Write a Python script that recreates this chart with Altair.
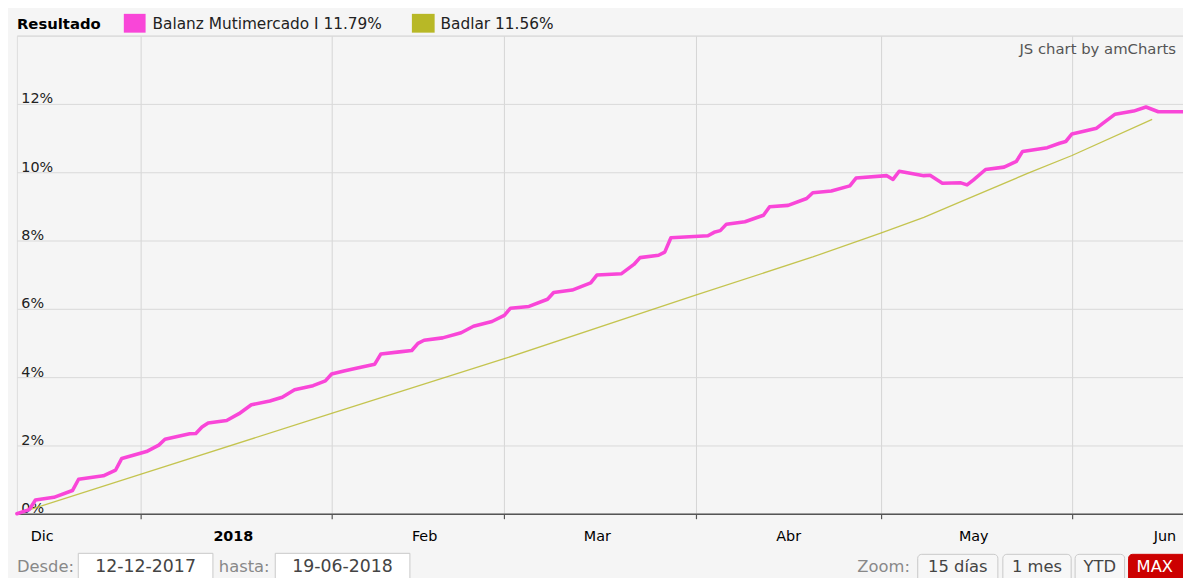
import json
import altair as alt
import pandas as pd

FONT = "DejaVu Sans"

# ---- data ----
series_names = ["Balanz Mutimercado I 11.79%", "Badlar 11.56%"]
series_colors = ["#f946d8", "#b8b826"]

balanz_dates = [
    "2017-12-12", "2017-12-14", "2017-12-15", "2017-12-18", "2017-12-21", "2017-12-22",
    "2017-12-26", "2017-12-28", "2017-12-29",
    "2018-01-02", "2018-01-04", "2018-01-05", "2018-01-09", "2018-01-10", "2018-01-11",
    "2018-01-12", "2018-01-15", "2018-01-17", "2018-01-19", "2018-01-22", "2018-01-24",
    "2018-01-26", "2018-01-29", "2018-01-31",
    "2018-02-01", "2018-02-03", "2018-02-05", "2018-02-08", "2018-02-09", "2018-02-12",
    "2018-02-14", "2018-02-15", "2018-02-16", "2018-02-19", "2018-02-22", "2018-02-24",
    "2018-02-27",
    "2018-03-01", "2018-03-02", "2018-03-05", "2018-03-08", "2018-03-09", "2018-03-12",
    "2018-03-15", "2018-03-16", "2018-03-20", "2018-03-22", "2018-03-23", "2018-03-26",
    "2018-03-27", "2018-03-28",
    "2018-04-03", "2018-04-04", "2018-04-05", "2018-04-06", "2018-04-09", "2018-04-12",
    "2018-04-13", "2018-04-16", "2018-04-19", "2018-04-20", "2018-04-23", "2018-04-26",
    "2018-04-27",
    "2018-05-02", "2018-05-03", "2018-05-04", "2018-05-08", "2018-05-09", "2018-05-11",
    "2018-05-14", "2018-05-15", "2018-05-16", "2018-05-18", "2018-05-21", "2018-05-23",
    "2018-05-24", "2018-05-28", "2018-05-30", "2018-05-31",
    "2018-06-01", "2018-06-05", "2018-06-06", "2018-06-08", "2018-06-11", "2018-06-13",
    "2018-06-15", "2018-06-19",
]
balanz_values = [
    0.00, 0.12, 0.40, 0.48, 0.68, 1.01,
    1.11, 1.28, 1.62,
    1.82, 2.01, 2.18, 2.34, 2.35, 2.54,
    2.66, 2.73, 2.93, 3.19, 3.30, 3.41,
    3.63, 3.75, 3.89,
    4.09, 4.18, 4.26, 4.38, 4.68, 4.74,
    4.78, 4.99, 5.08, 5.15, 5.30, 5.49,
    5.63,
    5.81, 6.02, 6.07, 6.28, 6.48, 6.55,
    6.76, 6.99, 7.03, 7.30, 7.50, 7.57,
    7.66, 8.08,
    8.14, 8.24, 8.29, 8.48, 8.55, 8.74,
    8.99, 9.03, 9.23, 9.40, 9.45, 9.60,
    9.83,
    9.90, 9.79, 10.03, 9.90, 9.91, 9.68,
    9.69, 9.63, 9.77, 10.08, 10.15, 10.32,
    10.61, 10.72, 10.85, 10.90,
    11.12, 11.29, 11.43, 11.70, 11.79, 11.91,
    11.77, 11.77,
]

badlar_dates = ["2017-12-12", "2018-01-01", "2018-02-01", "2018-03-01", "2018-04-01",
                "2018-04-20", "2018-05-01", "2018-05-08", "2018-05-14", "2018-05-25",
                "2018-06-01", "2018-06-14"]
badlar_values = [0.00, 1.15, 2.94, 4.54, 6.40,
                 7.52, 8.22, 8.68, 9.14, 9.98,
                 10.49, 11.55]

y_ticks = [0, 2, 4, 6, 8, 10, 12, 14]
month_starts = [(2018, 1, 1), (2018, 2, 1), (2018, 3, 1), (2018, 4, 1), (2018, 5, 1), (2018, 6, 1)]
label_dates = [(2017, 12, 16), (2018, 1, 16), (2018, 2, 16), (2018, 3, 16),
               (2018, 4, 16), (2018, 5, 16), (2018, 6, 16)]
month_labels = ["2018", "Feb", "Mar", "Abr", "May", "Jun", "Jul", "Ago", "Sep", "Oct", "Nov", "Dic"]
domain_dates = [(2017, 12, 12), (2018, 6, 19)]

legend_title = "Resultado"
credit_text = "JS chart by amCharts"
range_labels = ["Desde:", "hasta:"]
range_values = ["12-12-2017", "19-06-2018"]
zoom_label = "Zoom:"
zoom_buttons = ["15 días", "1 mes", "YTD", "MAX"]

# ---- tables ----
bal_df = pd.DataFrame({"date": pd.to_datetime(balanz_dates), "value": balanz_values,
                       "series": series_names[0]})
bad_df = pd.DataFrame({"date": pd.to_datetime(badlar_dates), "value": badlar_values,
                       "series": series_names[1]})


def dt(t):
    return alt.DateTime(year=t[0], month=t[1], date=t[2])


x_scale = alt.Scale(domain=[dt(d) for d in domain_dates])
y_scale = alt.Scale(domain=[0, 14], nice=False, zero=True)
color_scale = alt.Scale(domain=series_names, range=series_colors)

grid_axis = alt.Axis(values=[dt(d) for d in month_starts], grid=True, gridColor="#d4d4d4",
                     gridWidth=1, ticks=True, tickSize=5, tickColor="#555555", tickWidth=1.2,
                     labels=False, domain=True, domainColor="#555555", domainWidth=1.5,
                     title=None, orient="bottom")
label_axis = alt.Axis(values=[dt(d) for d in label_dates], grid=False, ticks=False,
                      domain=False, labels=True,
                      labelExpr=json.dumps(month_labels) + "[month(datum.value)]",
                      labelFontWeight=alt.condition("month(datum.value) == 0",
                                                    alt.value("bold"), alt.value("normal")),
                      labelPadding=16, labelFont=FONT, labelFontSize=14.5, labelColor="#000000",
                      labelAngle=0, labelAlign="center", labelBaseline="top",
                      labelOverlap=False, title=None, orient="bottom")
y_axis = alt.Axis(values=y_ticks, grid=True, gridColor="#d9d9d9", gridWidth=1, ticks=False,
                  domain=False, labelAlign="left", labelPadding=-4, labelBaseline="alphabetic",
                  labelOffset=-1,
                  labelExpr="datum.value >= 14 ? '' : datum.value + '%'",
                  labelFont=FONT, labelFontSize=14.5, labelColor="#222222", title=None)

badlar = alt.Chart(bad_df).mark_line(strokeWidth=1.3, opacity=0.8).encode(
    x=alt.X("date:T", scale=x_scale, axis=grid_axis),
    y=alt.Y("value:Q", scale=y_scale, axis=y_axis),
    stroke=alt.Stroke("series:N", scale=color_scale, legend=None),
)
balanz = alt.Chart(bal_df).mark_line(strokeWidth=3.6, strokeJoin="round", strokeCap="round").encode(
    x=alt.X("date:T", scale=x_scale, axis=label_axis),
    y=alt.Y("value:Q", scale=y_scale, axis=y_axis),
    stroke=alt.Stroke("series:N", scale=color_scale, legend=None),
)

one = alt.Data(values=[{"k": 0}])


def txt(s, x, y, size, color, align="left", weight="normal"):
    return alt.Chart(one).mark_text(text=s, align=align, baseline="alphabetic", font=FONT,
                                    fontSize=size, color=color, fontWeight=weight).encode(
        x=alt.value(x), y=alt.value(y))


def box(x1, x2, y1, y2, fill, stroke, r=0, sw=1):
    return alt.Chart(one).mark_rect(fill=fill, stroke=stroke, strokeWidth=sw,
                                    cornerRadius=r).encode(
        x=alt.value(x1), x2=alt.value(x2), y=alt.value(y1), y2=alt.value(y2))


# legend row (title, swatches, labels)
legend_marks = [
    txt(legend_title, 0, -7, 15, "#000000", weight="bold"),
    box(108, 130, -22, -3, series_colors[0], series_colors[0], sw=0),
    txt(series_names[0], 137, -7, 15.5, "#222222"),
    box(399, 422, -22, -3, series_colors[1], series_colors[1], sw=0),
    txt(series_names[1], 428, -7, 15.5, "#222222"),
]

decor = [
    txt(credit_text, 1171, 19, 15, "#555555", align="right"),
    txt(range_labels[0], 0, 542, 16.5, "#888888"),
    box(62, 198, 523, 560, "#ffffff", "#c8c8c8"),
    txt(range_values[0], 130, 542, 17.5, "#444444", align="center"),
    txt(range_labels[1], 204, 542, 16.5, "#888888"),
    box(261, 397, 523, 560, "#ffffff", "#c8c8c8"),
    txt(range_values[1], 329, 542, 17.5, "#444444", align="center"),
    txt(zoom_label, 849, 542, 16.5, "#888888"),
    box(910, 991, 524, 560, "#f7f7f7", "#c8c8c8", 4),
    txt(zoom_buttons[0], 950.5, 542, 16.5, "#444444", align="center"),
    box(996, 1065, 524, 560, "#f7f7f7", "#c8c8c8", 4),
    txt(zoom_buttons[1], 1030.5, 542, 16.5, "#444444", align="center"),
    box(1069, 1119, 524, 560, "#f7f7f7", "#c8c8c8", 4),
    txt(zoom_buttons[2], 1094, 542, 16.5, "#444444", align="center"),
    box(1123, 1200, 524, 560, "#cc0000", "#cc0000", 4),
    txt(zoom_buttons[3], 1149.5, 542, 16.5, "#ffffff", align="center"),
]

chart = alt.layer(badlar, balanz, *legend_marks, *decor).resolve_axis(
    x="independent"
).properties(
    width=1178, height=483,
    autosize=alt.AutoSizeParams(type="none"),
    padding={"left": 9, "top": 25, "right": 0, "bottom": 62},
    background="#f5f5f5",
).configure_view(stroke=None).configure(font=FONT)

chart.save("out.html", embed_options={"renderer": "svg", "actions": False})
